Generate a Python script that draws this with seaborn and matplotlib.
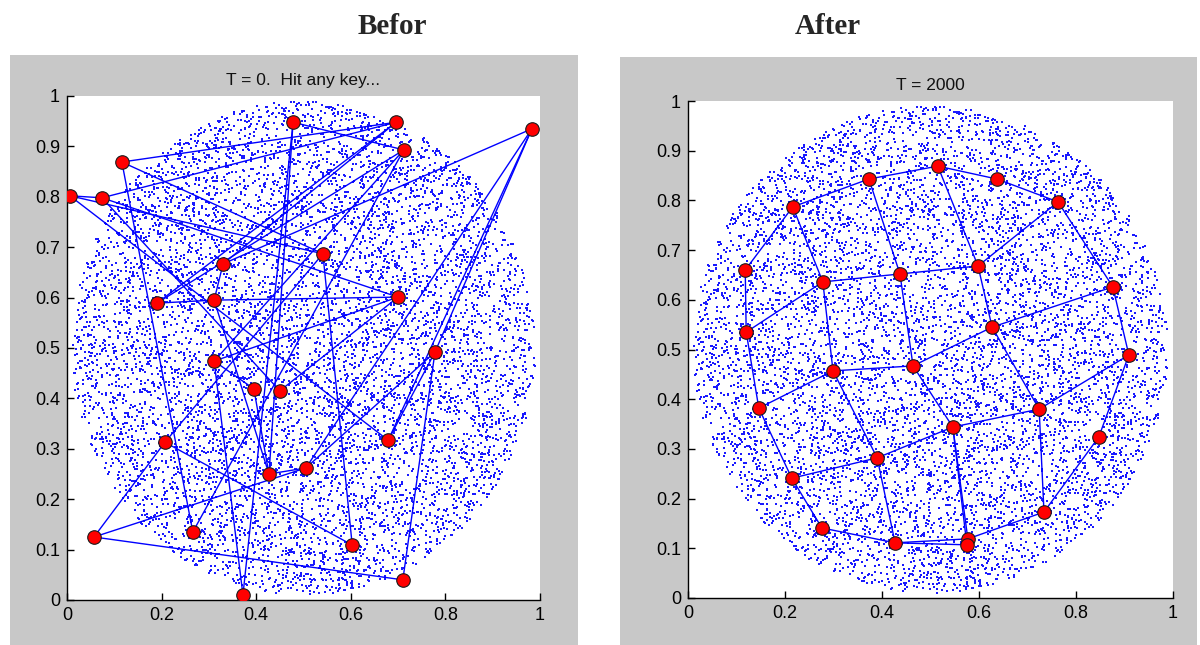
import numpy as np
import pandas as pd
import matplotlib
matplotlib.use("Agg")
import matplotlib.pyplot as plt
from matplotlib.patches import Rectangle
import seaborn as sns

sns.set_style("white")
plt.rcParams['font.family'] = ['Liberation Sans Narrow', 'Liberation Sans', 'DejaVu Sans']

# ---------------- data ----------------
# "Befor": initial (random) node weights, nodes numbered 1..25
before_x = [0.006, 0.074, 0.116, 0.478, 0.696, 0.712, 0.983, 0.330, 0.541, 0.190,
            0.311, 0.700, 0.311, 0.778, 0.395, 0.450, 0.207, 0.679, 0.427, 0.505,
            0.057, 0.266, 0.603, 0.372, 0.710]
before_y = [0.802, 0.798, 0.869, 0.948, 0.948, 0.893, 0.935, 0.667, 0.687, 0.589,
            0.595, 0.601, 0.474, 0.492, 0.419, 0.415, 0.313, 0.317, 0.250, 0.262,
            0.125, 0.135, 0.109, 0.010, 0.040]
before_links = [(1, 2), (1, 9), (1, 18), (2, 5), (2, 12), (2, 16), (3, 5), (3, 9),
                (3, 22), (4, 6), (4, 19), (4, 24), (5, 8), (5, 10), (6, 10), (6, 13),
                (6, 22), (7, 8), (7, 14), (7, 20), (7, 18), (8, 11), (9, 23), (9, 17),
                (10, 11), (11, 12), (11, 19), (12, 13), (12, 16), (13, 24), (13, 15),
                (14, 18), (14, 20), (14, 25), (15, 19), (17, 21), (17, 23), (19, 20),
                (20, 21), (21, 25)]
before_edges = [(i - 1, j - 1) for i, j in before_links]

# "After": trained 5x5 map (plus one overlapping node near the bottom)
after_x = [0.118, 0.216, 0.373, 0.515, 0.637,
           0.120, 0.278, 0.437, 0.598, 0.763,
           0.146, 0.299, 0.464, 0.627, 0.876,
           0.214, 0.390, 0.546, 0.724, 0.909,
           0.276, 0.427, 0.577, 0.734, 0.847,
           0.575]
after_y = [0.660, 0.787, 0.843, 0.869, 0.843,
           0.535, 0.636, 0.652, 0.668, 0.797,
           0.382, 0.457, 0.467, 0.545, 0.626,
           0.241, 0.282, 0.344, 0.380, 0.489,
           0.141, 0.111, 0.119, 0.173, 0.324,
           0.107]
after_edges = [(r * 5 + c, r * 5 + c + 1) for r in range(5) for c in range(4)] + \
              [(r * 5 + c, (r + 1) * 5 + c) for r in range(4) for c in range(5)] + \
              [(21, 25), (17, 25)]

titles = ["T = 0.  Hit any key...", "T = 2000"]
headers = ["Befor", "After"]
x_ticks = [0, 0.2, 0.4, 0.6, 0.8, 1]
y_ticks = [0, 0.1, 0.2, 0.3, 0.4, 0.5, 0.6, 0.7, 0.8, 0.9, 1]
x_ticklabels = ["0", "0.2", "0.4", "0.6", "0.8", "1"]
y_ticklabels = ["0", "0.1", "0.2", "0.3", "0.4", "0.5", "0.6", "0.7", "0.8", "0.9", "1"]

# training samples: uniform cloud in a disc (sampled, fixed seed)
rng = np.random.default_rng(7)
n_samples = 8000
r = 0.49 * np.sqrt(rng.random(n_samples))
th = 2 * np.pi * rng.random(n_samples)
cloud_x = 0.5 + r * np.cos(th)
cloud_y = 0.5 + r * np.sin(th)

# ---------------- figure ----------------
W, H = 1200, 645
fig = plt.figure(figsize=(12, 6.45), dpi=100)
fig.patch.set_facecolor("white")

gray = "#c8c8c8"
panels = [(10, 55, 578, 645), (620, 57, 1197, 645)]
axes_px = [(67, 96, 540, 600), (688, 101, 1173, 598)]
header_px = [(392, 26), (828, 26)]

blue = "#0000ff"

def edge_frame(xs, ys, edges):
    rows = []
    for k, (i, j) in enumerate(edges):
        rows.append((k, 0, xs[i], ys[i]))
        rows.append((k, 1, xs[j], ys[j]))
    return pd.DataFrame(rows, columns=["edge", "end", "x", "y"])

sets = [(before_x, before_y, before_edges), (after_x, after_y, after_edges)]

for p in range(2):
    x0, y0, x1, y1 = panels[p]
    fig.add_artist(Rectangle((x0 / W, 1 - y1 / H), (x1 - x0) / W, (y1 - y0) / H,
                             transform=fig.transFigure, facecolor=gray,
                             edgecolor="none", zorder=0))
    ax0, ay0, ax1, ay1 = axes_px[p]
    ax = fig.add_axes([ax0 / W, 1 - ay1 / H, (ax1 - ax0) / W, (ay1 - ay0) / H])
    ax.set_facecolor("white")

    cloud = pd.DataFrame({"x": cloud_x, "y": cloud_y})
    sns.scatterplot(data=cloud, x="x", y="y", ax=ax, s=0.8, marker="s",
                    color="#1a1aff", linewidth=0, legend=False, zorder=1)

    xs, ys, edges = sets[p]
    ef = edge_frame(xs, ys, edges)
    sns.lineplot(data=ef, x="x", y="y", units="edge", estimator=None, sort=False,
                 ax=ax, color=blue, linewidth=1.0, legend=False, zorder=2)

    nodes = pd.DataFrame({"x": xs, "y": ys})
    sns.scatterplot(data=nodes, x="x", y="y", ax=ax, s=95, color="red",
                    edgecolor="#1a1a1a", linewidth=0.8, legend=False, zorder=3)

    ax.set_xlim(0, 1)
    ax.set_ylim(0, 1)
    ax.set_xticks(x_ticks)
    ax.set_xticklabels(x_ticklabels)
    ax.set_yticks(y_ticks)
    ax.set_yticklabels(y_ticklabels)
    ax.set_xlabel("")
    ax.set_ylabel("")
    for side in ["top", "right"]:
        ax.spines[side].set_visible(False)
    for side in ["left", "bottom"]:
        ax.spines[side].set_color("black")
        ax.spines[side].set_linewidth(1.0)
    ax.tick_params(direction="in", length=5, width=1, colors="black",
                   labelsize=13, pad=5, left=True, bottom=True)
    ax.set_title(titles[p], fontsize=12.5, pad=8, color="#111111")

    hx, hy = header_px[p]
    fig.text(hx / W, 1 - hy / H, headers[p], ha="center", va="center",
             fontsize=21, fontweight="bold", family="Liberation Serif")

fig.savefig("out.png", dpi=100, facecolor="white")
